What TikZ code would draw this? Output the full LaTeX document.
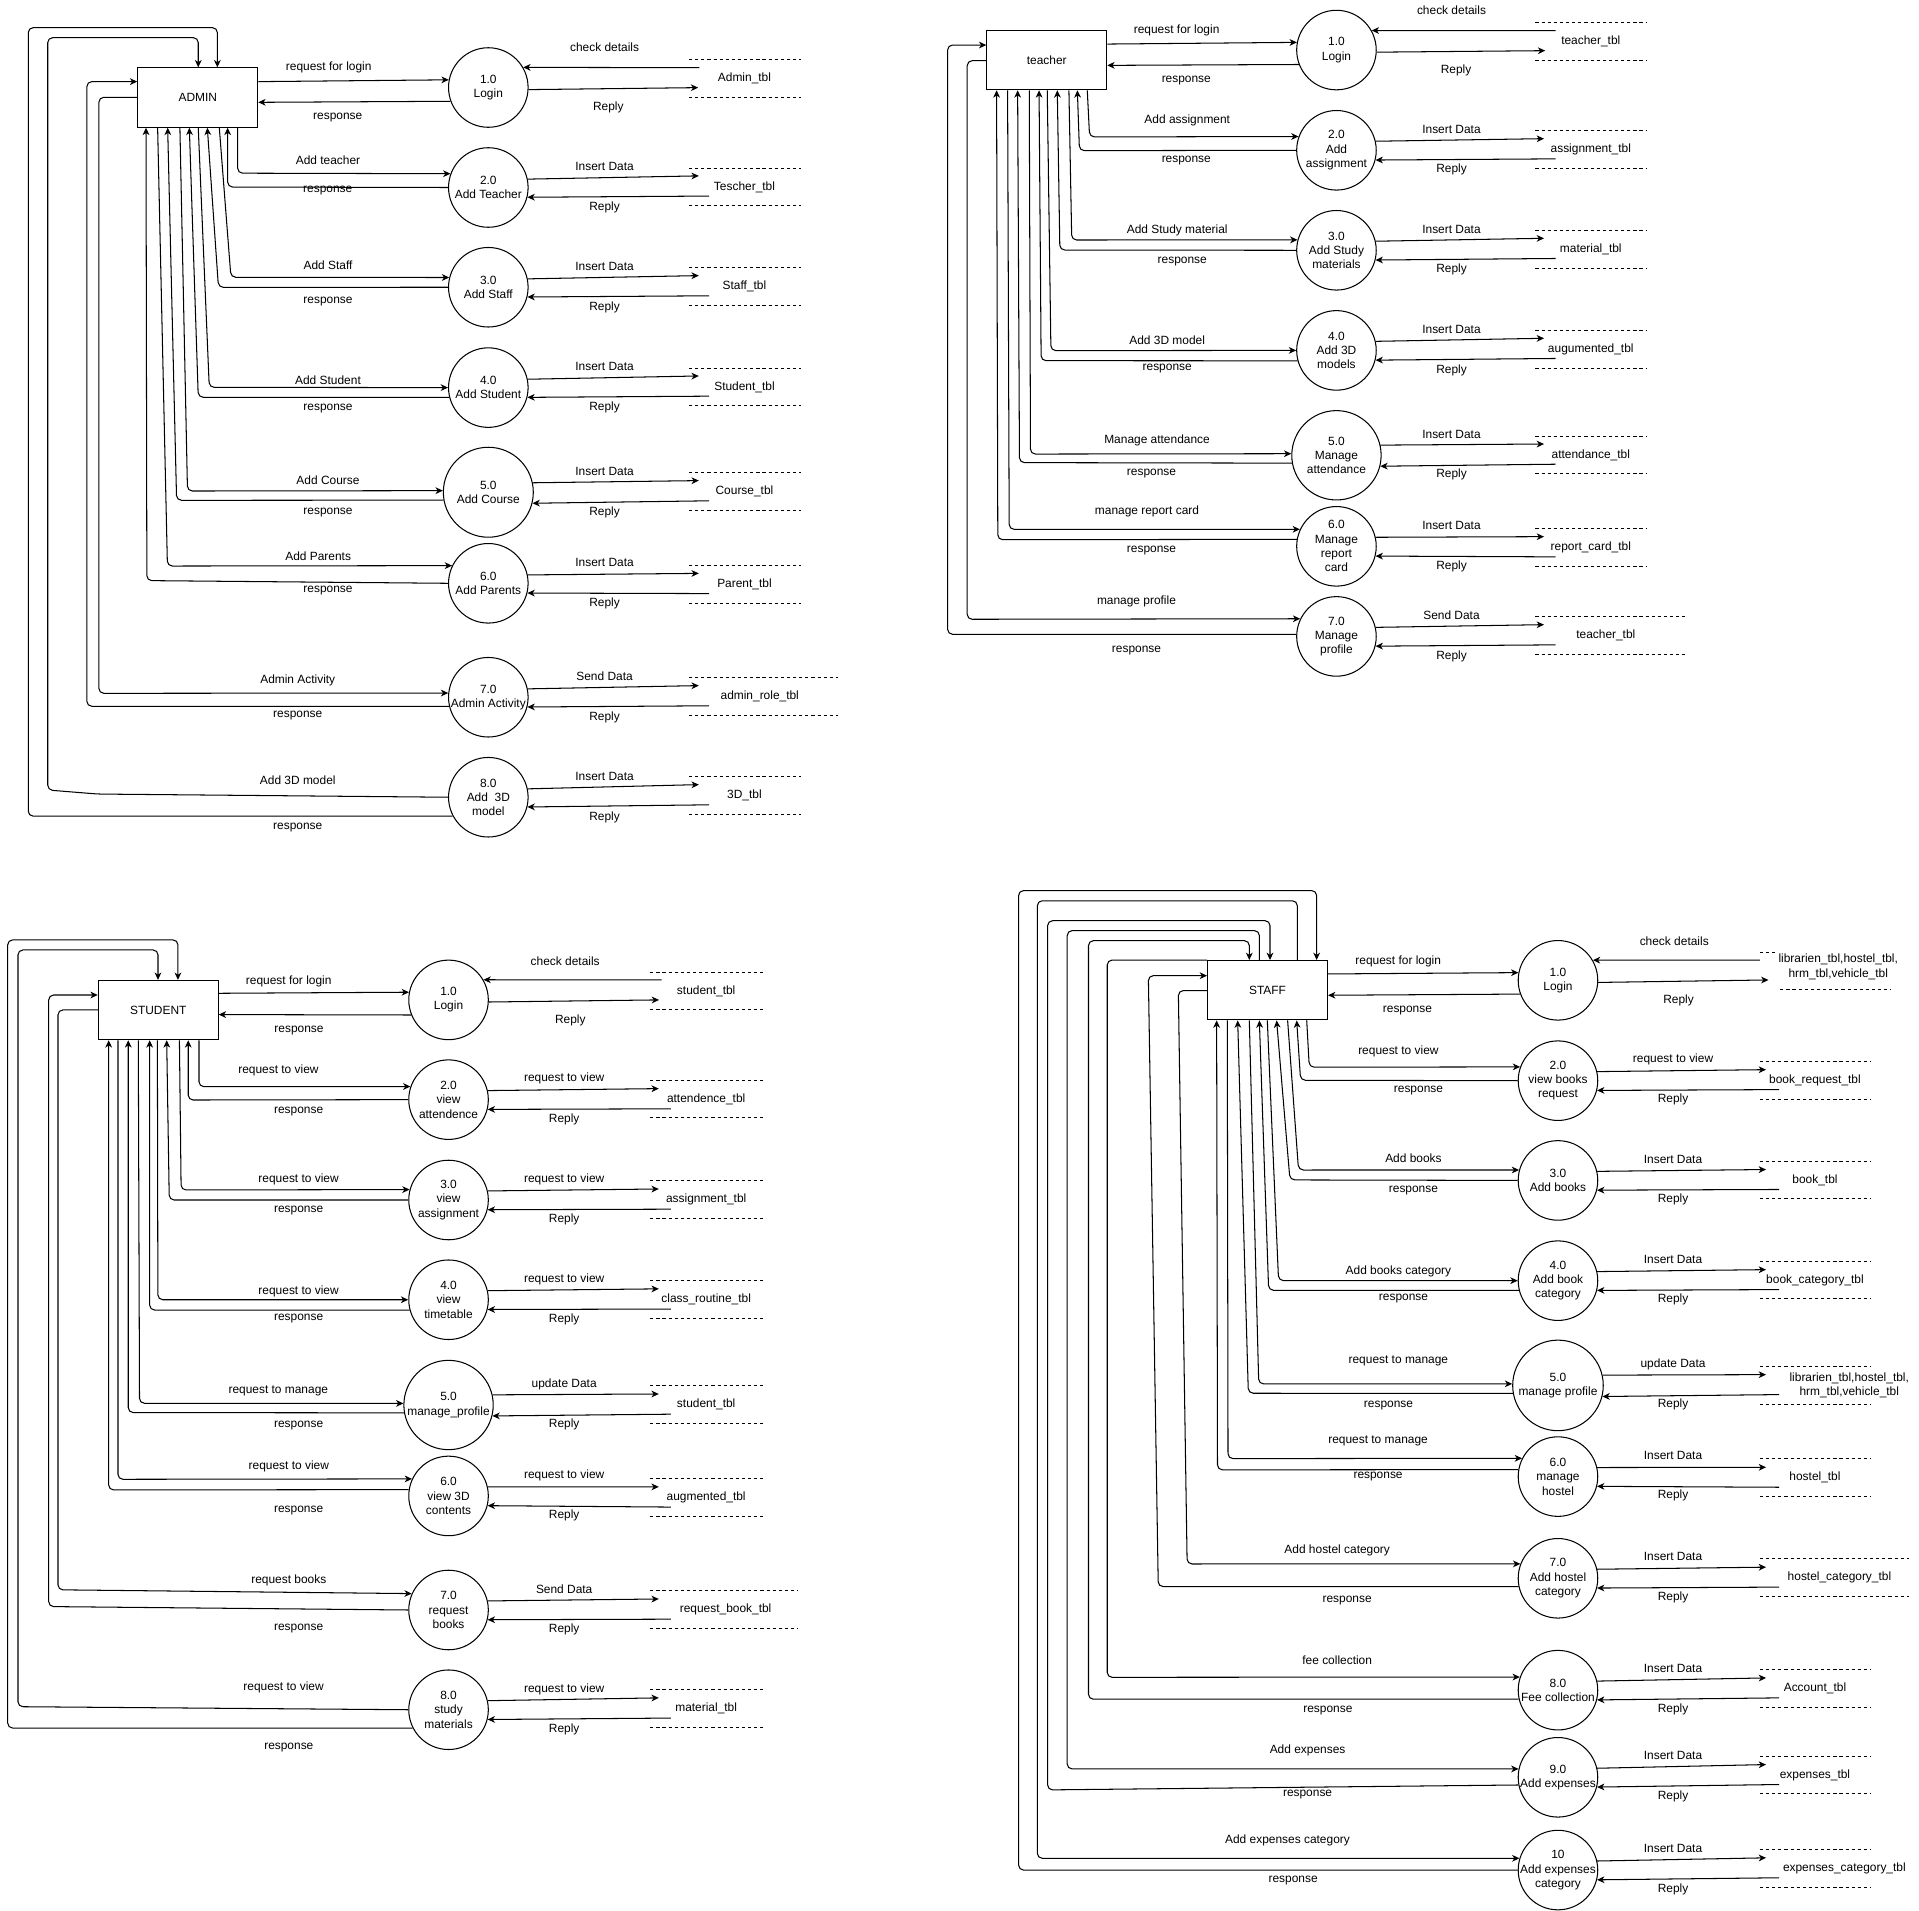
\documentclass[tikz,border=0pt]{standalone}
\usepackage{fontspec}
\setmainfont{Liberation Sans}
\usetikzlibrary{arrows.meta,positioning,calc}

\tikzset{
  ent/.style={draw, rectangle, minimum width=98pt, minimum height=48.5pt, inner sep=0pt},
  proc/.style={draw, circle, inner sep=0pt},
  ptext/.style={align=center, inner sep=0pt},
  store/.style={rectangle, minimum height=30pt, inner sep=0pt},
  dline/.style={line width=0.7pt, dash pattern=on 2.6pt off 2.4pt},
  lbl/.style={align=center, inner sep=0pt},
  flow/.style={-{Stealth[length=6pt,width=5.5pt,inset=1.8pt]}, rounded corners=4pt}
}

\begin{document}
\begin{tikzpicture}[x=1pt, y=-1pt, line width=0.85pt,
    every node/.style={font=\fontsize{9.75}{11.7}\selectfont}]
  \fill[white] (0,0) rectangle (1568,1561);
  \useasboundingbox (0,0) rectangle (1568,1561);

  \node[ent] (admin) at (161.6,79.7) {ADMIN};
  \foreach \n/\y/\sz/\txt in {1/71.5/65/{1.0\\Login}, 2/153.2/65/{2.0\\Add Teacher},
      3/234.7/65/{3.0\\Add Staff}, 4/316.7/65/{4.0\\Add Student},
      5/402.2/73.5/{5.0\\Add Course}, 6/476.6/65/{6.0\\Add Parents},
      7/569.7/65/{7.0\\Admin Activity}, 8/651.4/65/{8.0\\Add\ \ 3D\\model}}
    \node[proc, minimum size=\sz, label={[ptext]center:\txt}] (a\n) at (399,\y) {};
  \foreach \n/\y/\w/\lx/\txt in {1/64.3/90.6/608.3/Admin\_tbl, 2/152.7/90.6/608.3/Tescher\_tbl,
      3/234.2/90.6/608.3/Staff\_tbl, 4/316.2/90.6/608.3/Student\_tbl,
      5/401.7/90.6/608.3/Course\_tbl, 6/477.5/90.6/608.3/Parent\_tbl,
      7/569.2/121/620.8/admin\_role\_tbl, 8/650.1/90.6/608.3/3D\_tbl}{
    \node[store, minimum width=\w, anchor=west] (as\n) at (563,\y) {};
    \draw[dline] (as\n.north west) -- (as\n.north east) (as\n.south west) -- (as\n.south east);
    \node[lbl] (ast\n) at (\lx,\y) {\txt};
  }
  \draw[flow] ([xshift=8.5,yshift=9]as1.west) -- (a1.30);
  \draw[flow] (a1.357) -- ([xshift=7.5,yshift=-7.3]as1.west);
  \foreach \n in {2,...,8}{
    \draw[flow] (a\n.12) -- ([xshift=8,yshift=9]as\n.west);
    \draw[flow] ([xshift=16.5,yshift=-7.5]as\n.west) -- (a\n.346);
  }
  \node[lbl] (ar1) at (494,39) {check details};
  \node[lbl] (arr1) at (497,88) {Reply};
  \foreach \n/\y/\txt in {2/153.2/Insert Data, 3/234.7/Insert Data, 4/316.7/Insert Data,
      5/402.2/Insert Data, 6/476.6/Insert Data, 7/569.7/Send Data, 8/651.4/Insert Data}{
    \node[lbl] (ar\n) at (494,\y-17) {\txt};
    \node[lbl] (arr\n) at (494,\y+16.5) {Reply};
  }
  \draw[flow] (admin.east |- 0,66.7) -- (a1.169);
  \draw[flow] (a1.200) -- (admin.east |- 0,83.6);
  \foreach \n/\ox/\oc/\oy/\oa/\ix/\ic/\iy/\ia in {
      2/194.2/194.2/141.5/160/186/186/152.8/180,
      3/179.2/188.7/226.6/166/169.4/178.5/234.8/180,
      4/162/171/316.5/180/154.7/162/324.6/194,
      5/147/153.2/401.2/178/137/144.3/408.8/190,
      6/128.8/136.8/462.5/154/119.3/120/474.4/180}{
    \draw[flow] (admin.south -| \ox,0) -- (\oc,\oy) -- (a\n.\oa);
    \draw[flow] (a\n.\ia) -- (\ic,\iy) -- (admin.south -| \ix,0);
  }
  \draw[flow] (admin.west |- 0,79.5) -| (80.8,566.5) -- (a7.174);
  \draw[flow] (a7.193) -| (71,66.7) -- (admin.west |- 0,66.7);
  \draw[flow] (a8.180) -- (80,648.8) -- (39,645.5) |- (162,30.8) -- (admin.north -| 162,0);
  \draw[flow] (a8.208) -| (23.1,22.6) -| (admin.north -| 177.6,0);
  \foreach \txt/\x/\y [count=\k] in {request for login/268.6/55.3, response/276/96.2,
      Add teacher/268/131.3, response/267.8/156, Add Staff/268/217, response/268/246,
      Add Student/268/311, response/268/334.2, Add Course/268/392.7, response/268/418.9,
      Add Parents/260/454.8, response/268/482.6, Admin Activity/243.3/556.2,
      response/243.3/585, Add 3D model/243.3/637.8, response/243.3/676}
    \node[lbl] (al\k) at (\x,\y) {\txt};

  \node[ent] (teacher) at (855.3,49.1) {teacher};
  \foreach \n/\y/\sz/\txt in {1/40.9/65/{1.0\\Login}, 2/122.8/65/{2.0\\Add\\assignment},
      3/204.5/65/{3.0\\Add Study\\materials}, 4/286.3/65/{4.0\\Add 3D\\models},
      5/372/73/{5.0\\Manage\\attendance}, 6/446.4/65/{6.0\\Manage\\report\\card},
      7/520/65/{7.0\\Manage\\profile}}
    \node[proc, minimum size=\sz, label={[ptext]center:\txt}] (t\n) at (1092,\y) {};
  \foreach \n/\y/\w/\lx/\txt in {1/34/90.4/1299.8/teacher\_tbl, 2/122.3/90.4/1299.8/assignment\_tbl,
      3/203.7/90.4/1299.8/material\_tbl, 4/285.4/90.4/1299.8/augumented\_tbl,
      5/371.8/90.4/1299.8/attendance\_tbl, 6/447.5/90.4/1299.8/report\_card\_tbl,
      7/519.4/121/1312.1/teacher\_tbl}{
    \node[store, minimum width=\w, anchor=west] (ts\n) at (1254.6,\y) {};
    \draw[dline] (ts\n.north west) -- (ts\n.north east) (ts\n.south west) -- (ts\n.south east);
    \node[lbl] (tst\n) at (\lx,\y) {\txt};
  }
  \draw[flow] ([xshift=16.4,yshift=9]ts1.west) -- (t1.29);
  \draw[flow] (t1.357) -- ([xshift=8,yshift=-7.4]ts1.west);
  \foreach \n in {2,...,7}{
    \draw[flow] (t\n.13) -- ([xshift=7,yshift=9]ts\n.west);
    \draw[flow] ([xshift=16.4,yshift=-7.5]ts\n.west) -- (t\n.346);
  }
  \node[lbl] (tr1) at (1186,8.7) {check details};
  \node[lbl] (trr1) at (1189.7,57.7) {Reply};
  \foreach \n/\y/\txt in {2/122.8/Insert Data, 3/204.5/Insert Data, 4/286.3/Insert Data,
      5/372/Insert Data, 6/446.4/Insert Data, 7/520/Send Data}{
    \node[lbl] (tr\n) at (1186,\y-17) {\txt};
    \node[lbl] (trr\n) at (1186,\y+16) {Reply};
  }
  \draw[flow] (teacher.east |- 0,36) -- (t1.169);
  \draw[flow] (t1.201) -- (teacher.east |- 0,53.4);
  \foreach \n/\ox/\oc/\oy/\oa/\ix/\ic/\iy/\ia in {
      2/888.4/890.3/111.9/160/880.3/882/123.1/180,
      3/873.4/875.7/196.1/165/863.9/866/204.3/180,
      4/855.7/858.7/286.5/180/849/850.7/294.7/195,
      5/841/842/371/178/831.5/833/378/190,
      6/823.3/824.6/432.5/155/814.3/815.3/441/170}{
    \draw[flow] (teacher.south -| \ox,0) -- (\oc,\oy) -- (t\n.\oa);
    \draw[flow] (t\n.\ia) -- (\ic,\iy) -- (teacher.south -| \ix,0);
  }
  \draw[flow] (teacher.west |- 0,49.6) -| (790.3,506) -- (t7.154);
  \draw[flow] (t7.177) -| (774.3,36.8) -- (teacher.west |- 0,36.8);
  \foreach \txt/\x/\y [count=\k] in {request for login/961.4/25, response/969.3/66.2,
      Add assignment/970.1/98.6, response/969.3/131.5, Add Study material/961.9/188.5,
      response/966/213.3, Add 3D model/953.7/278.4, response/953.7/301.5,
      Manage attendance/945.4/360.1, response/940.9/386.8, manage report card/937.2/417.5,
      response/940.9/450.2, manage profile/928.6/491, response/928.6/531.9}
    \node[lbl] (tl\k) at (\x,\y) {\txt};

  \node[ent] (student) at (129.3,825.3) {STUDENT};
  \foreach \n/\y/\sz/\txt in {1/817/65/{1.0\\Login}, 2/898.5/65/{2.0\\view\\attendence},
      3/980.5/65/{3.0\\view\\assignment}, 4/1062/65/{4.0\\view\\timetable},
      5/1148/73/{5.0\\manage\_profile}, 6/1222.3/65/{6.0\\view 3D\\contents},
      7/1315.5/65/{7.0\\request\\books}, 8/1397/65/{8.0\\study\\materials}}
    \node[proc, minimum size=\sz, label={[ptext]center:\txt}] (s\n) at (366.5,\y) {};
  \foreach \n/\y/\w/\lx/\txt in {1/809.7/91/577/student\_tbl, 2/898/91/577/attendence\_tbl,
      3/980/91/577/assignment\_tbl, 4/1061.6/91/577/class\_routine\_tbl,
      5/1147.5/91/577/student\_tbl, 6/1223.4/91/577/augmented\_tbl,
      7/1315/120.2/592.9/request\_book\_tbl, 8/1395.8/91/577/material\_tbl}{
    \node[store, minimum width=\w, anchor=west] (ss\n) at (531.3,\y) {};
    \draw[dline] (ss\n.north west) -- (ss\n.north east) (ss\n.south west) -- (ss\n.south east);
    \node[lbl] (sst\n) at (\lx,\y) {\txt};
  }
  \draw[flow] ([xshift=9.2,yshift=9]ss1.west) -- (s1.30);
  \draw[flow] (s1.357) -- ([xshift=7.2,yshift=-7.3]ss1.west);
  \foreach \n in {2,...,8}{
    \draw[flow] (s\n.13) -- ([xshift=7,yshift=8.5]ss\n.west);
    \draw[flow] ([xshift=16.8,yshift=-8]ss\n.west) -- (s\n.346);
  }
  \node[lbl] (sr1) at (461.8,785) {check details};
  \node[lbl] (srr1) at (466,834) {Reply};
  \foreach \n/\y/\txt in {2/898.5/request to view, 3/980.5/request to view,
      4/1062/request to view, 5/1148/update Data, 6/1222.3/request to view,
      7/1315.5/Send Data, 8/1397/request to view}{
    \node[lbl] (sr\n) at (461,\y-17) {\txt};
    \node[lbl] (srr\n) at (461,\y+16) {Reply};
  }
  \draw[flow] (student.east |- 0,811.6) -- (s1.169);
  \draw[flow] (s1.202) -- (student.east |- 0,829);
  \foreach \n/\ox/\oc/\oy/\oa/\ix/\ic/\iy/\ia in {
      2/162.6/162.6/887.9/161/153.8/153.8/898.8/180,
      3/146.6/148/972.3/165/136.2/138.3/980.5/180,
      4/128.6/129/1062/180/122.3/122.3/1070.4/195,
      5/113/114/1146.6/178/104.8/104.8/1154.2/190,
      6/96.4/96.4/1208.7/155/88.8/88.8/1217.4/171}{
    \draw[flow] (student.south -| \ox,0) -- (\oc,\oy) -- (s\n.\oa);
    \draw[flow] (s\n.\ia) -- (\ic,\iy) -- (student.south -| \ix,0);
  }
  \draw[flow] (student.west |- 0,825.2) -| (47.4,1299) -- (s7.156);
  \draw[flow] (s7.180) -- (39.8,1312.7) |- (student.west |- 0,813);
  \draw[flow] (s8.180) -- (14.7,1394.5) |- (129.1,776.2) -- (student.north -| 129.1,0);
  \draw[flow] (s8.207) -| (6.3,768) -| (student.north -| 145.4,0);
  \foreach \txt/\x/\y [count=\k] in {request for login/235.9/801.5, response/244.3/842.4,
      request to view/227.5/875, response/244/907.8, request to view/244/963.3,
      response/244/989.5, request to view/244/1054.8, response/244/1077.7,
      request to manage/227.4/1136.5, response/244/1165, request to view/236/1198.4,
      response/244/1234.6, request books/236/1291.5, response/244/1331,
      request to view/231.7/1379, response/236/1428}
    \node[lbl] (sl\k) at (\x,\y) {\txt};

  \node[ent] (staff) at (1035.7,809.1) {STAFF};
  \foreach \n/\y/\sz/\txt in {1/801/65/{1.0\\Login}, 2/883/65/{2.0\\view books\\request},
      3/964.5/65/{3.0\\Add books}, 4/1046.4/65/{4.0\\Add book\\category},
      5/1132/74/{5.0\\manage profile}, 6/1206.5/65/{6.0\\manage\\hostel},
      7/1289.6/65/{7.0\\Add hostel\\category}, 8/1381/65/{8.0\\Fee collection},
      9/1452.2/65/{9.0\\Add expenses}, 10/1528/65/{10\\Add expenses\\category}}
    \node[proc, minimum size=\sz, label={[ptext]center:\txt}] (f\n) at (1273,\y) {};
  \node[store, minimum width=90pt, minimum height=29pt, anchor=west] (fs1) at (1438,793.5) {};
  \draw[dline] (fs1.north west) -- (fs1.north east) ([xshift=16.6]fs1.south west) -- ([xshift=16.6]fs1.south east);
  \node[lbl, fill=white, inner sep=1.5pt] (fst1) at (1502,789.9) {librarien\_tbl,hostel\_tbl,\\hrm\_tbl,vehicle\_tbl};
  \foreach \n/\y/\w/\lx/\txt in {2/882.5/90/1483/book\_request\_tbl, 3/964.1/90/1483/book\_tbl,
      4/1045.9/90/1483/book\_category\_tbl,
      5/1131.7/90/1511/{librarien\_tbl,hostel\_tbl,\\hrm\_tbl,vehicle\_tbl},
      6/1207.4/90/1483/hostel\_tbl, 7/1289/121/1503/hostel\_category\_tbl,
      8/1379.5/90/1483/Account\_tbl, 9/1450.3/90/1483/expenses\_tbl,
      10/1526.5/90/1507/expenses\_category\_tbl}{
    \node[store, minimum width=\w, anchor=west] (fs\n) at (1438,\y) {};
    \draw[dline] (fs\n.north west) -- (fs\n.north east) (fs\n.south west) -- (fs\n.south east);
    \node[lbl] (fst\n) at (\lx,\y) {\txt};
  }
  \draw[flow] ([yshift=9]fs1.west) -- (f1.30);
  \draw[flow] (f1.357) -- ([xshift=7,yshift=-7.2]fs1.west);
  \foreach \n in {2,...,10}{
    \draw[flow] (f\n.13) -- ([xshift=5,yshift=8.5]fs\n.west);
    \draw[flow] ([xshift=15.6,yshift=-7.8]fs\n.west) -- (f\n.346);
  }
  \node[lbl] (fr1) at (1368,768.9) {check details};
  \node[lbl] (frr1) at (1371.5,817.6) {Reply};
  \foreach \n/\y/\txt in {2/883/request to view, 3/964.5/Insert Data, 4/1046.4/Insert Data,
      5/1132/update Data, 6/1206.5/Insert Data, 7/1289.6/Insert Data, 8/1381/Insert Data,
      9/1452.2/Insert Data, 10/1528/Insert Data}{
    \node[lbl] (fr\n) at (1367,\y-17.5) {\txt};
    \node[lbl] (frr\n) at (1367,\y+15.5) {Reply};
  }
  \draw[flow] (staff.east |- 0,795.8) -- (f1.169);
  \draw[flow] (f1.200) -- (staff.east |- 0,813.2);
  \foreach \n/\ox/\oc/\oy/\oa/\ix/\ic/\iy/\ia in {
      2/1067.7/1069.8/872/160/1059.5/1062.7/882.7/180,
      3/1052.1/1061/956/165/1043.1/1054/964.1/180,
      4/1035.5/1044.7/1046.4/180/1029/1036.6/1054.3/194,
      5/1020.8/1028.5/1130.8/178/1011.3/1020/1138.4/190,
      6/1002.8/1003.4/1191.8/153/994.1/994.8/1201/170}{
    \draw[flow] (staff.south -| \ox,0) -- (\oc,\oy) -- (f\n.\oa);
    \draw[flow] (f\n.\ia) -- (\ic,\iy) -- (staff.south -| \ix,0);
  }
  \draw[flow] (staff.west |- 0,809.4) -- (962.8,809.4) -- (970,1277.9) -- (f7.159);
  \draw[flow] (f7.192) -- (946.4,1296.4) -- (938.3,797.2) -- (staff.west |- 0,797.2);
  \draw[flow] (staff.north west) -| (904.7,1370.5) -- (f8.161);
  \draw[flow] (f8.193) -| (889.4,768.6) -| (staff.north -| 1020.8,0);
  \draw[flow] (staff.north -| 1029,0) |- (872,760.4) |- (f9.168);
  \draw[flow] (f9.191) -- (856,1462.5) |- (1037.7,752.3) -- (staff.north -| 1037.7,0);
  \draw[flow] (staff.north -| 1060,0) |- (847.6,736) |- (f10.163);
  \draw[flow] (f10.180) -| (832.3,727.7) -| (staff.north -| 1075.8,0);
  \foreach \txt/\x/\y [count=\k] in {request for login/1142.5/785.2, response/1150/826,
      request to view/1142.6/858.7, response/1159/891.4, Add books/1154.9/946.4,
      response/1154.9/973, Add books category/1142.6/1038.5, response/1146.8/1061.4,
      request to manage/1142.6/1112, response/1134.5/1148.5, request to manage/1126/1177.4,
      response/1126/1206.8, Add hostel category/1092.6/1267, response/1100.7/1307.8,
      fee collection/1092.6/1356.9, response/1085/1397.7, Add expenses/1068.4/1430.4,
      response/1068.4/1466, Add expenses category/1052/1504, response/1056.6/1536.7}
    \node[lbl] (fl\k) at (\x,\y) {\txt};
\end{tikzpicture}
\end{document}
